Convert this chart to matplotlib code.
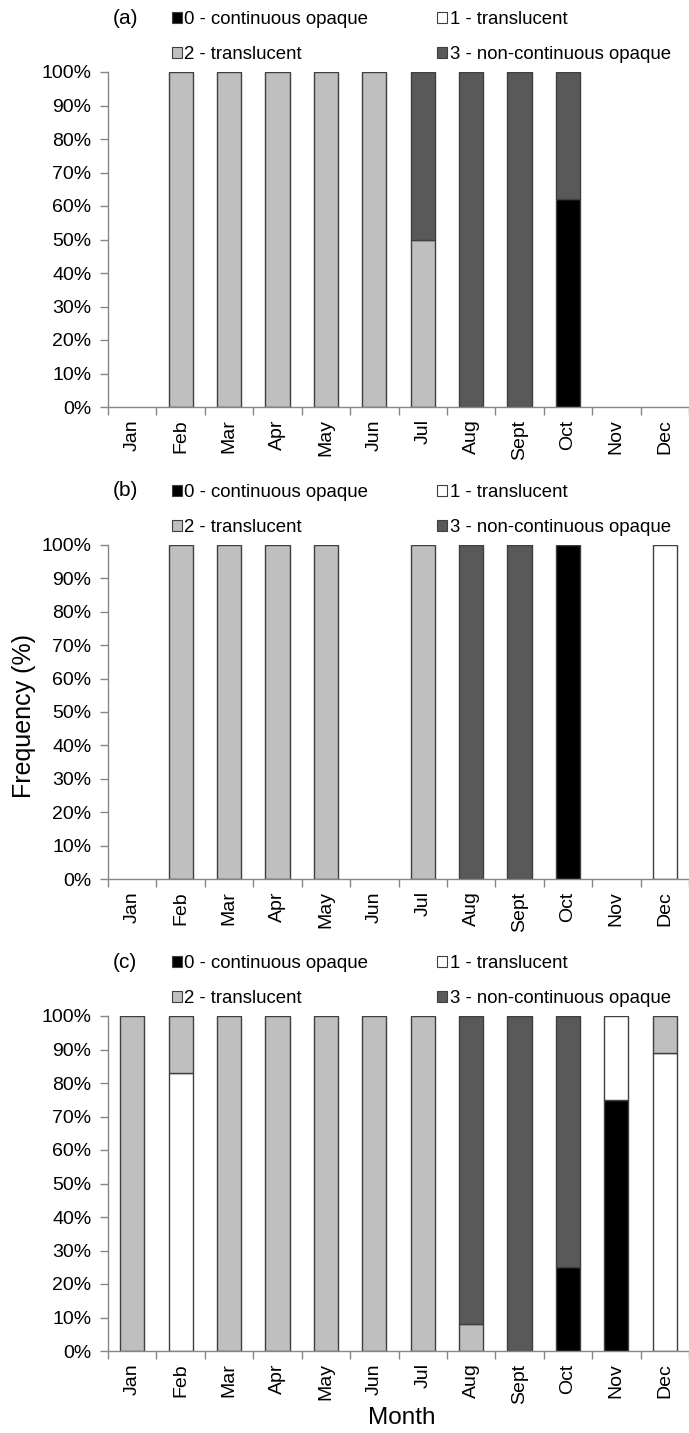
import matplotlib
matplotlib.use("Agg")
import matplotlib.pyplot as plt
from matplotlib.patches import Patch
import numpy as np

plt.rcParams['font.family'] = ['Liberation Sans', 'DejaVu Sans']

months = ["Jan", "Feb", "Mar", "Apr", "May", "Jun", "Jul", "Aug", "Sept", "Oct", "Nov", "Dec"]
categories = ["0 - continuous opaque", "1 - translucent", "2 - translucent", "3 - non-continuous opaque"]
colors = ["#000000", "#FFFFFF", "#BFBFBF", "#595959"]
panel_labels = ["(a)", "(b)", "(c)"]

# panel (a)
a_c0 = [0, 0, 0, 0, 0, 0, 0, 0, 0, 62, 0, 0]
a_c1 = [0, 0, 0, 0, 0, 0, 0, 0, 0, 0, 0, 0]
a_c2 = [0, 100, 100, 100, 100, 100, 50, 0, 0, 0, 0, 0]
a_c3 = [0, 0, 0, 0, 0, 0, 50, 100, 100, 38, 0, 0]
# panel (b)
b_c0 = [0, 0, 0, 0, 0, 0, 0, 0, 0, 100, 0, 0]
b_c1 = [0, 0, 0, 0, 0, 0, 0, 0, 0, 0, 0, 100]
b_c2 = [0, 100, 100, 100, 100, 0, 100, 0, 0, 0, 0, 0]
b_c3 = [0, 0, 0, 0, 0, 0, 0, 100, 100, 0, 0, 0]
# panel (c)
c_c0 = [0, 0, 0, 0, 0, 0, 0, 0, 0, 25, 75, 0]
c_c1 = [0, 83, 0, 0, 0, 0, 0, 0, 0, 0, 25, 89]
c_c2 = [100, 17, 100, 100, 100, 100, 100, 8, 0, 0, 0, 11]
c_c3 = [0, 0, 0, 0, 0, 0, 0, 92, 100, 75, 0, 0]

panels = [[a_c0, a_c1, a_c2, a_c3], [b_c0, b_c1, b_c2, b_c3], [c_c0, c_c1, c_c2, c_c3]]

W, H = 689, 1433
fig = plt.figure(figsize=(W / 100, H / 100), dpi=100)

ax_left = 108 / W
ax_width = 581 / W
tops = [72, 545, 1016]
bottoms = [407, 879, 1351]

edge = "#3F3F3F"
spine_col = "#868686"
fs = 14
lfs = 13.4

for p, series in enumerate(panels):
    top, bot = tops[p], bottoms[p]
    ax = fig.add_axes([ax_left, 1 - bot / H, ax_width, (bot - top) / H])
    x = np.arange(len(months))
    base = np.zeros(len(months))
    for k, vals in enumerate(series):
        vals = np.array(vals, dtype=float)
        ecs = [edge if v > 0 else "none" for v in vals]
        ax.bar(x, vals, bottom=base, width=0.5, color=colors[k], edgecolor=ecs, linewidth=1.0, zorder=3)
        base = base + vals
    ax.set_xlim(-0.5, len(months) - 0.5)
    ax.set_ylim(0, 100)
    ax.set_yticks(np.arange(0, 101, 10))
    ax.set_yticklabels([f"{v}%" for v in range(0, 101, 10)], fontsize=fs)
    ax.set_xticks(np.arange(-0.5, len(months), 1.0))
    ax.set_xticklabels([])
    ax.set_xticks(x, minor=True)
    ax.set_xticklabels(months, minor=True, rotation=90, fontsize=fs)
    ax.tick_params(axis='x', which='major', direction='out', length=6, color=spine_col, width=1)
    ax.tick_params(axis='x', which='minor', length=0, pad=9)
    ax.tick_params(axis='y', direction='out', length=6, color=spine_col, width=1, pad=6)
    for s in ["top", "right"]:
        ax.spines[s].set_visible(False)
    for s in ["left", "bottom"]:
        ax.spines[s].set_color(spine_col)
        ax.spines[s].set_linewidth(1)
        ax.spines[s].set_zorder(4)

    handles = [Patch(facecolor=colors[k], edgecolor=edge, linewidth=0.8, label=categories[k]) for k in range(4)]
    order = [0, 2, 1, 3]
    leg_y = 1 - (top - 61) / H
    fig.legend([handles[i] for i in order], [categories[i] for i in order],
               loc='upper left', bbox_to_anchor=(172 / W, leg_y), ncol=2, frameon=False,
               fontsize=lfs, handlelength=0.52, handleheight=0.52, handletextpad=0.15,
               columnspacing=3.7, labelspacing=0.95, borderpad=0, borderaxespad=0)
    fig.text(125 / W, 1 - (top - 54) / H, panel_labels[p], fontsize=15, ha='center', va='center')

fig.text(24 / W, 1 - 716 / H, "Frequency (%)", fontsize=18, rotation=90, ha='center', va='center')
fig.text(402 / W, 1 - 1418 / H, "Month", fontsize=17.5, ha='center', va='center')

fig.savefig("out.png", dpi=100)
